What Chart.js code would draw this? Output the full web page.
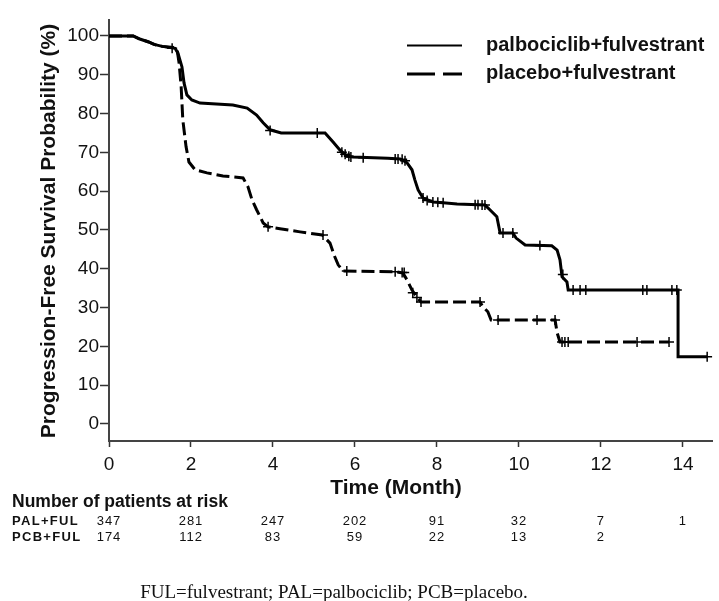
<!DOCTYPE html>
<html>
<head>
<meta charset="utf-8">
<title>Progression-Free Survival</title>
<script src="https://cdn.jsdelivr.net/npm/chart.js@4.4.1/dist/chart.umd.min.js"></script>
<style>
  html, body { margin: 0; padding: 0; background: #fff; }
  canvas { display: block; }
</style>
</head>
<body>
<canvas id="km" width="719" height="601"></canvas>
<script>
/* ── Data (months, % progression-free) ── */
const palTime = [0, 0.59, 0.75, 0.95, 1.1, 1.3, 1.61, 1.68, 1.78, 1.83, 1.9, 2.02, 2.22, 3.02, 3.37, 3.6, 3.76, 3.93, 4.2, 5.1,
  5.27, 5.46, 5.63, 5.8, 5.95, 6.8, 7.1, 7.27, 7.39, 7.46, 7.54, 7.66, 7.9, 8.15, 8.49, 9.17, 9.29, 9.46, 9.54, 9.85,
  9.93, 10.15, 10.8, 10.93, 11.0, 11.05, 11.17, 11.2, 13.88, 13.88, 14.59];
const palSurv = [100, 100, 99.2, 98.5, 97.8, 97.3, 96.8, 95.6, 92, 87.9, 84.8, 83.5, 82.7, 82.2, 81.4, 79.6, 77.6, 75.8, 75, 75,
  75, 72.7, 70.6, 69, 68.8, 68.5, 68.3, 67.3, 65.5, 62.9, 60.3, 58.2, 57.2, 57, 56.7, 56.4, 55.2, 53.4, 49.2, 49.2,
  47.9, 46.1, 45.9, 44.8, 42.3, 37.9, 36.6, 34.5, 34.5, 17.3, 17.3];

const pcbTime = [0, 0.59, 0.75, 0.95, 1.1, 1.3, 1.61, 1.66, 1.71, 1.76, 1.8, 1.88, 1.95, 2.1, 2.39, 2.78, 3.27, 3.39, 3.49,
  3.6, 3.76, 3.88, 4.17, 4.66, 5.2, 5.39, 5.51, 5.59, 5.71, 7.02, 7.17, 7.27, 7.39, 7.51, 7.61, 9.05, 9.12, 9.24, 9.32,
  10.88, 10.93, 11.0, 13.66];
const pcbSurv = [100, 100, 99.2, 98.5, 97.8, 97.3, 97, 96.5, 93, 86.9, 78.4, 71.4, 67.5, 65.5, 64.7, 63.9, 63.4, 61.1, 57.7,
  55.2, 51.8, 50.8, 50.3, 49.5, 48.7, 46.6, 43, 41, 39.4, 39.2, 38.9, 37.1, 34.5, 32.7, 31.4, 31.4, 30.2, 28.9, 26.8,
  26.8, 23.5, 21.1, 21.1];

// censored observations (+ marks)
const palCensTime = [1.54, 3.93, 5.08, 5.68, 5.76, 5.85, 5.9, 6.2, 6.98, 7.05, 7.15, 7.22, 7.66, 7.76, 7.9, 8.02, 8.15,
  8.93, 9.0, 9.1, 9.17, 9.61, 9.85, 10.51, 11.07, 11.32, 11.49, 11.63, 13.02, 13.12, 13.73, 13.85, 14.59];
const palCensSurv = [96.8, 75.6, 75, 70, 69.5, 69, 68.8, 68.6, 68.3, 68.3, 68.2, 67.8, 58.2, 57.6, 57.2, 57.1, 57,
  56.5, 56.5, 56.4, 56.4, 49.2, 49.2, 46, 38.5, 34.5, 34.5, 34.5, 34.5, 34.5, 34.5, 34.5, 17.3];

const pcbCensTime = [3.88, 5.22, 5.8, 6.98, 7.15, 7.2, 7.41, 7.51, 7.61, 9.05, 9.49, 10.44, 10.88, 11.05, 11.12, 11.2,
  12.88, 13.66];
const pcbCensSurv = [50.8, 48.7, 39.4, 39.2, 39, 39, 33.8, 32.6, 31.4, 31.4, 26.8, 26.8, 26.8, 21.1, 21.1, 21.1,
  21.1, 21.1];

const xTicks = [0, 2, 4, 6, 8, 10, 12, 14];
const yTicks = [0, 10, 20, 30, 40, 50, 60, 70, 80, 90, 100];

const riskTimes = [0, 2, 4, 6, 8, 10, 12, 14];
const riskPal = [347, 281, 247, 202, 91, 32, 7, 1];
const riskPcb = [174, 112, 83, 59, 22, 13, 2];

const SANS = '"Liberation Sans", Arial, sans-serif';
const SERIF = '"Liberation Serif", "Times New Roman", serif';

const pts = (xs, ys) => xs.map((x, i) => ({ x, y: ys[i] }));

/* ── Decorations: titles, legend, at-risk table, footnote ── */
const decor = {
  id: 'decor',
  afterDraw(chart) {
    const c = chart.ctx;
    const xs = chart.scales.x;
    c.save();
    c.fillStyle = '#111';
    c.textBaseline = 'middle';

    // axis titles
    c.font = 'bold 21px ' + SANS;
    c.textAlign = 'center';
    c.fillText('Time (Month)', (xs.getPixelForValue(0) + xs.getPixelForValue(14)) / 2, 488);
    c.save();
    c.translate(49, 231);
    c.rotate(-Math.PI / 2);
    c.fillText('Progression-Free Survival Probability (%)', 0, 0);
    c.restore();

    // legend
    c.strokeStyle = '#000';
    c.lineWidth = 2.2;
    c.beginPath(); c.moveTo(407, 45.5); c.lineTo(462, 45.5); c.stroke();
    c.lineWidth = 3.2;
    c.setLineDash([28, 8]);
    c.beginPath(); c.moveTo(407, 74); c.lineTo(462, 74); c.stroke();
    c.setLineDash([]);
    c.font = 'bold 20px ' + SANS;
    c.textAlign = 'left';
    c.fillText('palbociclib+fulvestrant', 486, 45);
    c.fillText('placebo+fulvestrant', 486, 73.5);

    // number at risk
    c.font = 'bold 17.5px ' + SANS;
    c.fillText('Number of patients at risk', 12, 502);
    c.letterSpacing = '1.3px';
    c.font = 'bold 13px ' + SANS;
    c.fillText('PAL+FUL', 12, 521);
    c.fillText('PCB+FUL', 12, 537);
    c.letterSpacing = '1px';
    c.font = '13px ' + SANS;
    c.textAlign = 'center';
    riskPal.forEach((n, i) => c.fillText(String(n), xs.getPixelForValue(riskTimes[i]), 521));
    riskPcb.forEach((n, i) => c.fillText(String(n), xs.getPixelForValue(riskTimes[i]), 537));
    c.letterSpacing = '0px';

    // footnote
    c.font = '19px ' + SERIF;
    c.fillText('FUL=fulvestrant; PAL=palbociclib; PCB=placebo.', 334, 593);
    c.restore();
  }
};

const censorStyle = {
  showLine: false, pointStyle: 'cross', pointRadius: 5, pointHoverRadius: 5,
  pointBorderColor: '#000', pointBorderWidth: 1.5, borderColor: '#000',
};

new Chart(document.getElementById('km'), {
  type: 'line',
  data: {
    datasets: [
      { label: 'palbociclib+fulvestrant', data: pts(palTime, palSurv), borderColor: '#000', borderWidth: 3,
        pointRadius: 0, tension: 0, fill: false },
      { label: 'placebo+fulvestrant', data: pts(pcbTime, pcbSurv), borderColor: '#000', borderWidth: 3,
        borderDash: [13, 5], pointRadius: 0, tension: 0, fill: false },
      { label: 'pal censored', data: pts(palCensTime, palCensSurv), ...censorStyle },
      { label: 'pcb censored', data: pts(pcbCensTime, pcbCensSurv), ...censorStyle },
    ],
  },
  options: {
    responsive: false, animation: false,
    layout: { padding: { top: 20, right: 0, left: 0, bottom: 0 } },
    plugins: { legend: { display: false }, tooltip: { enabled: false } },
    scales: {
      x: {
        type: 'linear', min: 0, max: 14.72,
        afterBuildTicks: s => { s.ticks = xTicks.map(v => ({ value: v })); },
        afterFit: s => { s.height = 160; },
        grid: { drawOnChartArea: false, tickLength: 6, tickColor: '#333', tickWidth: 1.5 },
        border: { color: '#444', width: 2 },
        ticks: { color: '#111', font: { family: SANS, size: 19 }, padding: 6, maxRotation: 0 },
      },
      y: {
        type: 'linear', min: -4.4, max: 104.1,
        afterBuildTicks: s => { s.ticks = yTicks.map(v => ({ value: v })); },
        afterFit: s => { s.width = 109; },
        grid: { drawOnChartArea: false, tickLength: 9, tickColor: '#333', tickWidth: 1.5 },
        border: { color: '#444', width: 2 },
        ticks: { color: '#111', font: { family: SANS, size: 19 }, padding: 1 },
      },
    },
  },
  plugins: [decor],
});
</script>
</body>
</html>
